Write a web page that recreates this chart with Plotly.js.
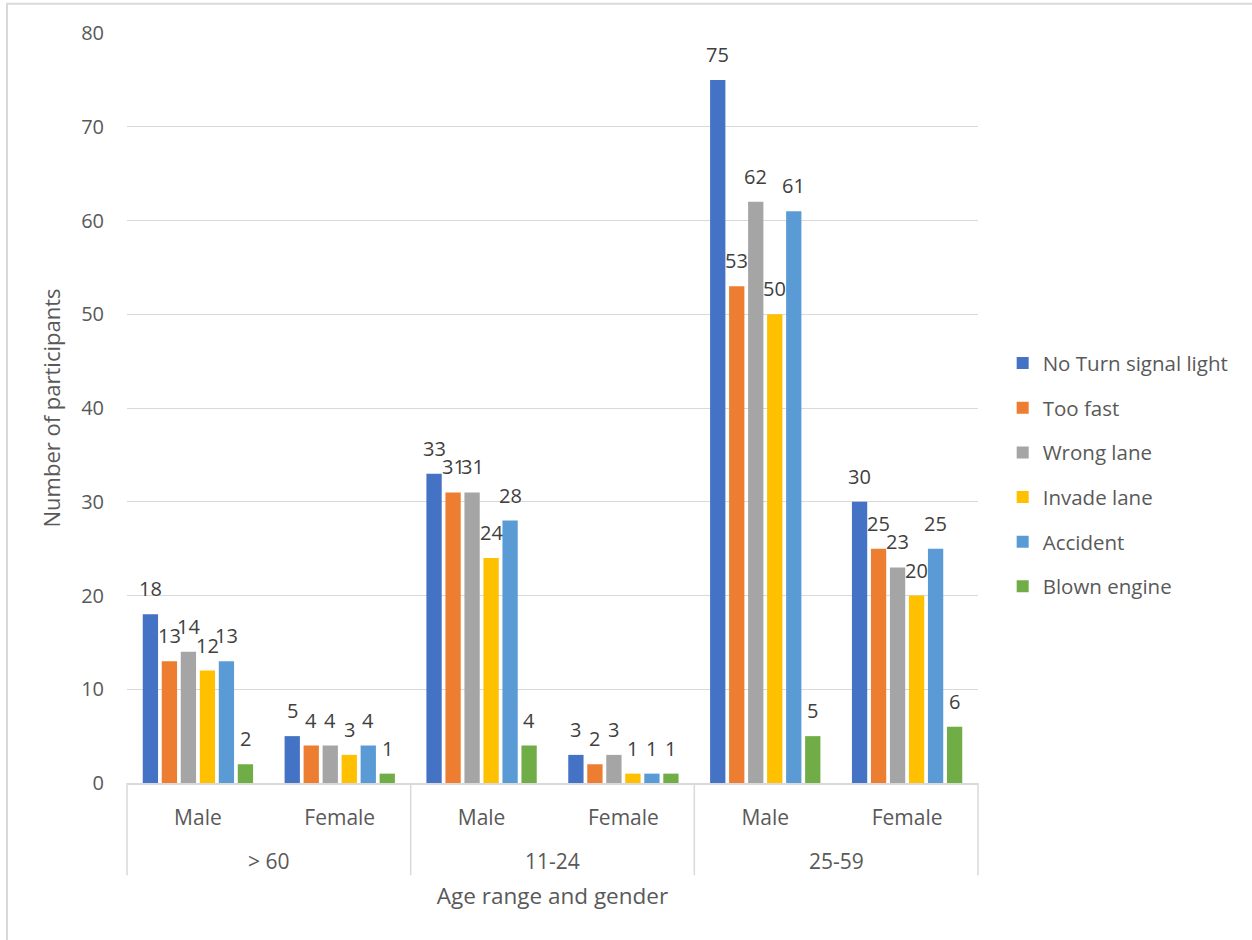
<!DOCTYPE html>
<html>
<head>
<meta charset="utf-8">
<script src="https://cdn.plot.ly/plotly-3.0.1.min.js"></script>
<style>
  html, body { margin: 0; padding: 0; background: #ffffff; }
  #chart { width: 1252px; height: 940px; }
</style>
</head>
<body>
<div id="chart"></div>
<script>
// Age groups and genders along the x axis (one bar cluster per pair)
const ageGroups = ["> 60", "11-24", "25-59"];
const genders = ["Male", "Female"];

// Series: reported problem types
const seriesNames = ["No Turn signal light", "Too fast", "Wrong lane", "Invade lane", "Accident", "Blown engine"];
const seriesColors = ["#4472C4", "#ED7D31", "#A5A5A5", "#FFC000", "#5B9BD5", "#70AD47"];

// Counts per cluster, in order: >60 M, >60 F, 11-24 M, 11-24 F, 25-59 M, 25-59 F
const noTurnSignal = [18, 5, 33, 3, 75, 30];
const tooFast      = [13, 4, 31, 2, 53, 25];
const wrongLane    = [14, 4, 31, 3, 62, 23];
const invadeLane   = [12, 3, 24, 1, 50, 20];
const accident     = [13, 4, 28, 1, 61, 25];
const blownEngine  = [2, 1, 4, 1, 5, 6];
const seriesValues = [noTurnSignal, tooFast, wrongLane, invadeLane, accident, blownEngine];

const yTicks = [0, 10, 20, 30, 40, 50, 60, 70, 80];

const FONT = "Open Sans, Segoe UI, sans-serif";
const BARGAP = 0.196;
const GROUPGAP = 0.195;

// cluster index positions and their gender labels
const clusterX = [];
const clusterLabels = [];
ageGroups.forEach((a, ai) => genders.forEach((g, gi) => {
  clusterX.push(ai * genders.length + gi);
  clusterLabels.push(g);
}));
const nClusters = clusterX.length;

const traces = seriesNames.map((name, j) => ({
  type: "bar",
  name: name,
  x: clusterX,
  y: seriesValues[j],
  marker: { color: seriesColors[j], line: { width: 0 } },
  legendgroup: "g" + j,
  hoverinfo: "y+name"
}));

// value labels centred over each bar
const nSeries = seriesNames.length;
const slot = (1 - BARGAP) / nSeries;
const annotations = [];
seriesValues.forEach((vals, j) => {
  const off = -(1 - BARGAP) / 2 + (j + 0.5) * slot;
  vals.forEach((v, i) => {
    annotations.push({
      x: clusterX[i] + off, y: v, xref: "x", yref: "y",
      text: String(v), showarrow: false, yanchor: "bottom", yshift: 10,
      font: { family: FONT, size: 20, color: "#404040" }
    });
  });
});

// age group labels under the gender labels
ageGroups.forEach((a, ai) => {
  annotations.push({
    x: ai * genders.length + (genders.length - 1) / 2, xref: "x",
    y: -0.104, yref: "paper", yanchor: "middle",
    text: a, showarrow: false,
    font: { family: FONT, size: 21, color: "#595959" }
  });
});

// divider lines between age groups, plus chart frame
const shapes = [];
for (let k = 0; k <= ageGroups.length; k++) {
  const xp = (k * genders.length) / nClusters;
  shapes.push({
    type: "line", xref: "paper", yref: "paper",
    x0: xp, x1: xp, y0: 0, y1: -0.123,
    line: { color: "#d9d9d9", width: 1.5 }
  });
}
shapes.push({ type: "line", xref: "paper", yref: "paper", x0: -0.141, x1: -0.141, y0: 1.04, y1: -0.25,
  line: { color: "#d9d9d9", width: 2 } });
shapes.push({ type: "line", xref: "paper", yref: "paper", x0: -0.142, x1: 1.35, y0: 1.039, y1: 1.039,
  line: { color: "#d9d9d9", width: 2 } });

const layout = {
  width: 1252, height: 940,
  margin: { l: 127, r: 274, t: 33, b: 157 },
  paper_bgcolor: "#ffffff", plot_bgcolor: "#ffffff",
  font: { family: FONT, color: "#595959", size: 20 },
  barmode: "group",
  bargap: BARGAP,
  bargroupgap: GROUPGAP,
  showlegend: true,
  legend: {
    x: 1.029, xanchor: "left", y: 0.411, yanchor: "middle",
    font: { family: FONT, size: 20.5, color: "#595959" },
    tracegroupgap: 15, bgcolor: "rgba(0,0,0,0)"
  },
  xaxis: {
    type: "linear",
    range: [-0.5, nClusters - 0.5],
    tickmode: "array", tickvals: clusterX, ticktext: clusterLabels,
    ticks: "", ticklabelstandoff: 15,
    showgrid: false, zeroline: false,
    showline: true, linecolor: "#d9d9d9", linewidth: 1.5,
    tickfont: { family: FONT, size: 21, color: "#595959" },
    title: { text: "Age range and gender", standoff: 58,
      font: { family: FONT, size: 22.5, color: "#595959" } },
    fixedrange: true
  },
  yaxis: {
    range: [0, 80],
    tickmode: "array", tickvals: yTicks,
    showgrid: true, gridcolor: "#d9d9d9", gridwidth: 1,
    zeroline: false, showline: false,
    ticks: "", ticklabelstandoff: 22,
    tickfont: { family: FONT, size: 20, color: "#595959" },
    title: { text: "Number of participants", standoff: 14,
      font: { family: FONT, size: 22, color: "#595959" } },
    fixedrange: true
  },
  annotations: annotations,
  shapes: shapes
};

Plotly.newPlot("chart", traces, layout, { displayModeBar: false, staticPlot: true });
</script>
</body>
</html>
